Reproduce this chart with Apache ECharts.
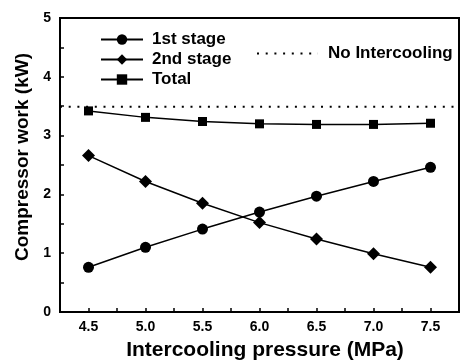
<!DOCTYPE html>
<html>
<head>
<meta charset="utf-8">
<script src="https://cdn.jsdelivr.net/npm/echarts@6/dist/echarts.min.js"></script>
<style>
  html, body { margin: 0; padding: 0; background: #fff; }
  #chart { width: 460px; height: 363px; }
</style>
</head>
<body>
<div id="chart"></div>
<script>
  // intercooling pressure (MPa)
  var pressure = [4.5, 5.0, 5.5, 6.0, 6.5, 7.0, 7.5];
  // compressor work (kW)
  var stage1 = [0.76, 1.10, 1.41, 1.70, 1.97, 2.22, 2.46];
  var stage2 = [2.66, 2.22, 1.85, 1.52, 1.24, 0.99, 0.76];
  var total = [3.42, 3.31, 3.24, 3.20, 3.19, 3.19, 3.21];
  // no intercooling reference level, across the whole axis
  var noCoolX = [4.25, 7.75];
  var noCoolY = [3.49, 3.49];

  function pairs(xs, ys) {
    return xs.map(function (x, i) { return [x, ys[i]] })
  }

  var font = 'Liberation Sans, Arial, sans-serif'
  var chart = echarts.init(document.getElementById('chart'))

  var option = {
    animation: false,
    grid: {
      left: 60, right: 1, top: 18, bottom: 51,
      outerBoundsMode: 'none',
      show: true, borderColor: '#000', borderWidth: 2
    },
    legend: [{
      data: ['1st stage', '2nd stage', 'Total'],
      orient: 'vertical',
      left: 95, top: 26,
      itemWidth: 42, itemHeight: 13, itemGap: 3,
      textStyle: { fontFamily: font, fontWeight: 'bold', fontSize: 17, color: '#000', padding: [0, 0, 0, 4] }
    }, {
      data: [{ name: 'No Intercooling', itemStyle: { opacity: 0 } }],
      left: 251, top: 40,
      itemWidth: 61, itemHeight: 13,
      textStyle: { fontFamily: font, fontWeight: 'bold', fontSize: 17, color: '#000', padding: [0, 0, 0, 5] }
    }],
    xAxis: {
      type: 'value',
      min: 4.25, max: 7.75, interval: 0.25,
      name: 'Intercooling pressure (MPa)',
      nameLocation: 'middle', nameGap: 28,
      nameTextStyle: { fontFamily: font, fontWeight: 'bold', fontSize: 21, color: '#000', padding: [0, 0, 0, 11] },
      axisLine: { lineStyle: { color: '#000', width: 2 } },
      axisTick: { inside: true, length: 4, lineStyle: { color: '#000', width: 1.5 } },
      splitLine: { show: false },
      axisLabel: {
        fontFamily: font, fontWeight: 'bold', fontSize: 14, color: '#000', margin: 8,
        formatter: function (v) {
          return Math.abs(v * 2 - Math.round(v * 2)) < 1e-6 ? v.toFixed(1) : ''
        }
      }
    },
    yAxis: {
      type: 'value',
      min: 0, max: 5, interval: 0.5,
      name: 'Compressor work (kW)',
      nameLocation: 'middle', nameGap: 26,
      nameTextStyle: { fontFamily: font, fontWeight: 'bold', fontSize: 19, color: '#000', padding: [0, 0, 0, 16] },
      axisLine: { lineStyle: { color: '#000', width: 2 } },
      axisTick: { inside: true, length: 4, lineStyle: { color: '#000', width: 1.5 } },
      splitLine: { show: false },
      axisLabel: {
        fontFamily: font, fontWeight: 'bold', fontSize: 14, color: '#000', margin: 9,
        formatter: function (v) {
          return Math.abs(v - Math.round(v)) < 1e-6 ? String(v) : ''
        }
      }
    },
    series: [{
      name: '1st stage',
      type: 'line',
      symbol: 'circle', symbolSize: 11,
      itemStyle: { color: '#000' },
      lineStyle: { color: '#000', width: 1.5 },
      data: pairs(pressure, stage1)
    }, {
      name: '2nd stage',
      type: 'line',
      symbol: 'diamond', symbolSize: 13,
      itemStyle: { color: '#000' },
      lineStyle: { color: '#000', width: 1.5 },
      data: pairs(pressure, stage2)
    }, {
      name: 'Total',
      type: 'line',
      symbol: 'rect', symbolSize: 9,
      itemStyle: { color: '#000' },
      lineStyle: { color: '#000', width: 1.5 },
      data: pairs(pressure, total)
    }, {
      name: 'No Intercooling',
      type: 'line',
      symbol: 'none',
      itemStyle: { color: '#000' },
      lineStyle: { color: '#000', width: 2, type: [2, 6.7] },
      data: pairs(noCoolX, noCoolY)
    }]
  }

  chart.setOption(option)
</script>
</body>
</html>
